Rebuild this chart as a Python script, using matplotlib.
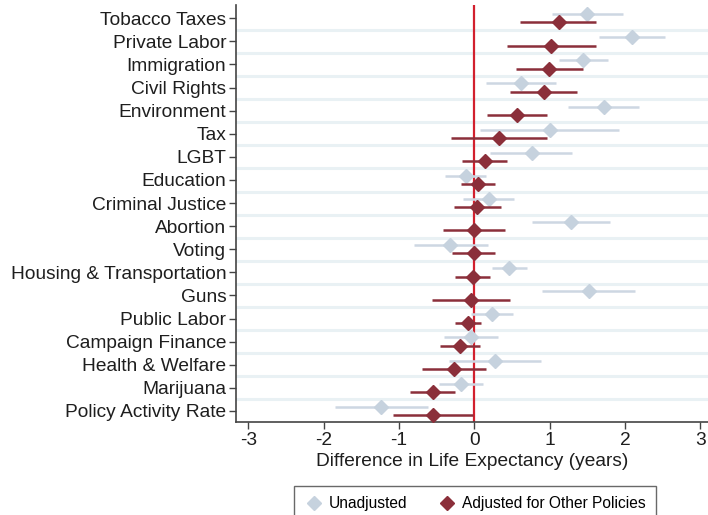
import matplotlib
matplotlib.use("Agg")
import matplotlib.pyplot as plt
from matplotlib.lines import Line2D
import numpy as np

plt.rcParams['font.family'] = ['Liberation Sans', 'DejaVu Sans']

categories = ["Tobacco Taxes", "Private Labor", "Immigration", "Civil Rights",
              "Environment", "Tax", "LGBT", "Education", "Criminal Justice",
              "Abortion", "Voting", "Housing & Transportation", "Guns",
              "Public Labor", "Campaign Finance", "Health & Welfare",
              "Marijuana", "Policy Activity Rate"]

unadj = [1.50, 2.09, 1.45, 0.62, 1.72, 1.00, 0.76, -0.11, 0.19,
         1.29, -0.32, 0.46, 1.52, 0.23, -0.05, 0.27, -0.18, -1.24]
unadj_lo = [1.03, 1.65, 1.13, 0.15, 1.25, 0.08, 0.21, -0.39, -0.15,
            0.77, -0.80, 0.23, 0.90, -0.04, -0.40, -0.33, -0.47, -1.85]
unadj_hi = [1.98, 2.53, 1.78, 1.08, 2.19, 1.92, 1.30, 0.16, 0.53,
            1.80, 0.18, 0.70, 2.14, 0.51, 0.31, 0.88, 0.11, -0.62]

adj = [1.12, 1.02, 0.99, 0.92, 0.57, 0.33, 0.14, 0.05, 0.04,
       0.00, 0.00, -0.02, -0.04, -0.08, -0.19, -0.27, -0.55, -0.55]
adj_lo = [0.61, 0.44, 0.55, 0.48, 0.17, -0.31, -0.16, -0.18, -0.27,
          -0.41, -0.30, -0.25, -0.56, -0.25, -0.46, -0.69, -0.85, -1.08]
adj_hi = [1.61, 1.61, 1.44, 1.36, 0.97, 0.97, 0.44, 0.28, 0.35,
          0.41, 0.28, 0.21, 0.47, 0.09, 0.08, 0.16, -0.25, -0.02]

xticks = [-3, -2, -1, 0, 1, 2, 3]

c_un = "#c6d2de"
c_un_line = "#cdd7e2"
c_adj = "#8b2f3a"
c_zero = "#d2202e"
c_grid = "#e9f1f4"
c_text = "#1e1e1e"

fig = plt.figure(figsize=(7.08, 5.15), dpi=100)
ax = fig.add_axes([236/708, 1-422/515, 1-236/708, (422-5)/515])

pos = np.arange(len(categories))
off = 0.18

for y in pos[:-1] + 0.5:
    ax.axhline(y, color=c_grid, lw=2.2, zorder=0)

ax.axvline(0, color=c_zero, lw=1.6, zorder=1)

ax.hlines(pos - off, unadj_lo, unadj_hi, color=c_un_line, lw=1.8, zorder=2)
ax.plot(unadj, pos - off, 'D', color=c_un, ms=7.5, mec=c_un, zorder=3)
ax.hlines(pos + off, adj_lo, adj_hi, color=c_adj, lw=1.8, zorder=4)
ax.plot(adj, pos + off, 'D', color=c_adj, ms=7.5, mec=c_adj, zorder=5)

ax.set_xlim(-3.165, 3.104)
ax.set_ylim(17.48, -0.576)
ax.set_yticks(pos)
ax.set_yticklabels(categories, fontsize=13.8, color=c_text)
ax.set_xticks(xticks)
ax.set_xticklabels([str(t) for t in xticks], fontsize=13.8, color=c_text)
ax.set_xlabel("Difference in Life Expectancy (years)", fontsize=13.8,
              color=c_text, labelpad=3)

for s in ["top", "right"]:
    ax.spines[s].set_visible(False)
for s in ["left", "bottom"]:
    ax.spines[s].set_color("#444444")
    ax.spines[s].set_linewidth(1.2)
ax.tick_params(axis='both', direction='out', length=5, width=1, color="#444444", pad=2)

handles = [Line2D([], [], marker='D', ls='none', color=c_un, ms=7.5),
           Line2D([], [], marker='D', ls='none', color=c_adj, ms=7.5)]
leg = fig.legend(handles, ["Unadjusted", "Adjusted for Other Policies"],
                 loc='upper center', bbox_to_anchor=(475/708, 1-485.5/515),
                 ncol=2, frameon=True, fancybox=False, fontsize=11.2,
                 handletextpad=0.4, columnspacing=1.9, borderpad=0.68,
                 borderaxespad=0, handlelength=1.2)
leg.get_frame().set_edgecolor("#444444")
leg.get_frame().set_linewidth(1.0)

fig.savefig("out.png", dpi=100)
